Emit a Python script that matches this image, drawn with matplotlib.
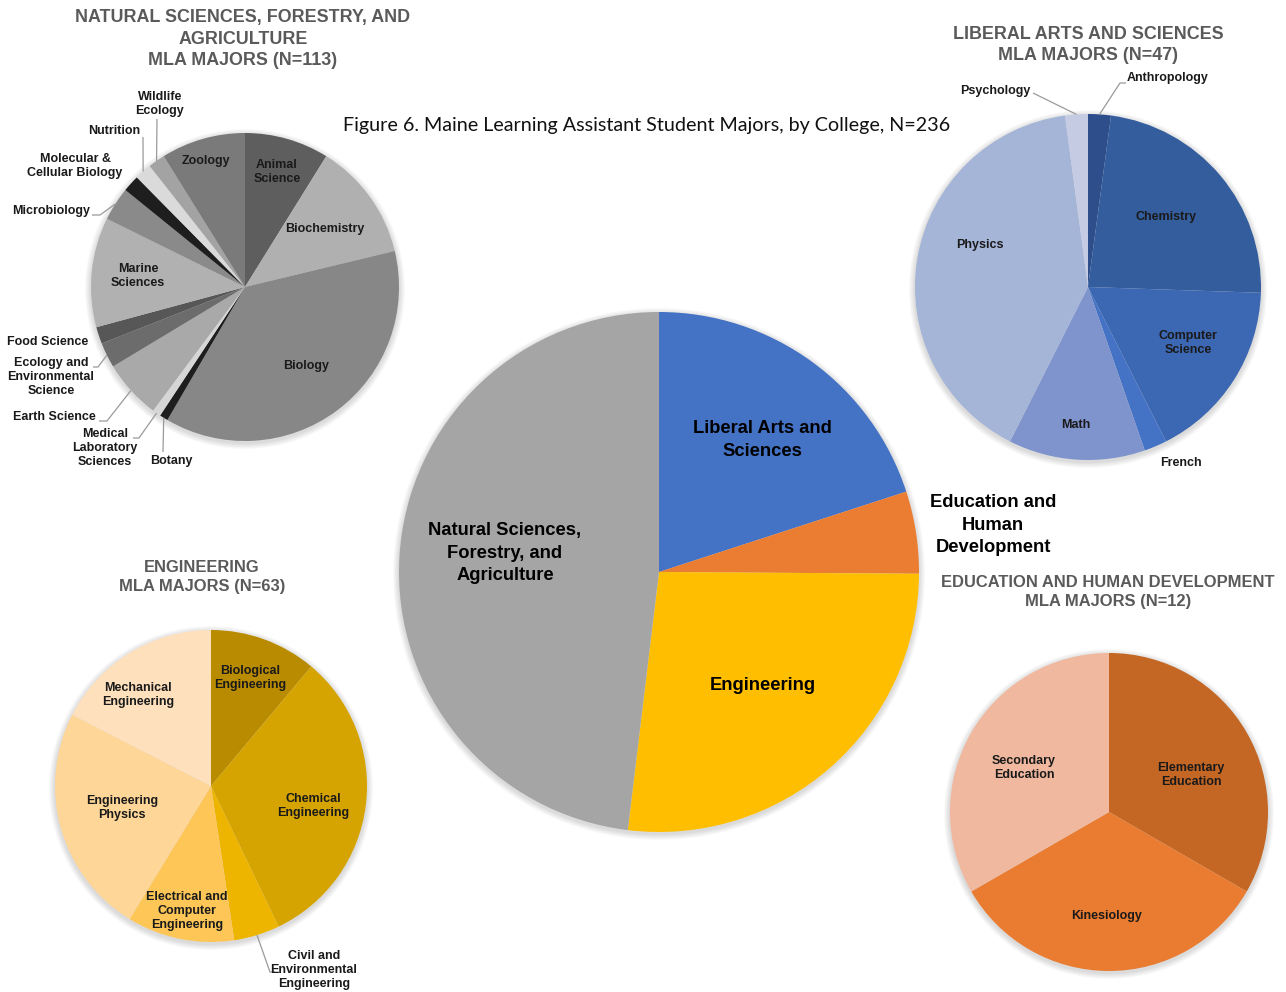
import matplotlib.pyplot as plt
from matplotlib.patches import Circle
import numpy as np

W, H = 1286, 992

# college totals (main pie)
college_names = ["Liberal Arts and\nSciences", "Education and\nHuman\nDevelopment",
                 "Engineering", "Natural Sciences,\nForestry, and\nAgriculture"]
college_counts = [47, 12, 63, 113]
college_colors = ["#4472c4", "#ea7d31", "#ffbf00", "#a5a5a5"]

# natural sciences, forestry and agriculture
ns_names = ["Animal\nScience", "Biochemistry", "Biology", "Botany",
            "Medical\nLaboratory\nSciences", "Earth Science",
            "Ecology and\nEnvironmental\nScience", "Food Science",
            "Marine\nSciences", "Microbiology", "Molecular &\nCellular Biology",
            "Nutrition", "Wildlife\nEcology", "Zoology"]
ns_counts = [10, 14, 42, 1, 1, 7, 3, 2, 13, 4, 2, 2, 2, 10]
ns_colors = ["#5e5e5e", "#b0b0b0", "#878787", "#1e1e1e", "#d6d6d6", "#a9a9a9",
             "#6c6c6c", "#575757", "#b1b1b1", "#8a8a8a", "#1e1e1e", "#dadada",
             "#a3a3a3", "#7a7a7a"]

# liberal arts and sciences
las_names = ["Anthropology", "Chemistry", "Computer\nScience", "French",
             "Math", "Physics", "Psychology"]
las_counts = [1, 11, 8, 1, 6, 19, 1]
las_colors = ["#2d4d8b", "#335d9d", "#3c67b2", "#4472c4", "#7f94cd",
              "#a5b5d7", "#c6cbe4"]

# engineering
eng_names = ["Biological\nEngineering", "Chemical\nEngineering",
             "Civil and\nEnvironmental\nEngineering",
             "Electrical and\nComputer\nEngineering", "Engineering\nPhysics",
             "Mechanical\nEngineering"]
eng_counts = [7, 20, 3, 7, 15, 11]
eng_colors = ["#b98b00", "#d6a400", "#eeb500", "#fdc657", "#fed698", "#fee0bd"]

# education and human development
edu_names = ["Elementary\nEducation", "Kinesiology", "Secondary\nEducation"]
edu_counts = [4, 4, 4]
edu_colors = ["#c46624", "#e97c30", "#f0b89e"]

fig = plt.figure(figsize=(W / 100, H / 100), dpi=100)
ax = fig.add_axes([0, 0, 1, 1])

LABEL_FONT = ["Liberation Sans", "DejaVu Sans"]
TITLE_GREY = "#5a5a5a"
LEADER_GREY = "#9a9a9a"


def draw_pie(counts, colors, cx, cy, r, lw=0.0):
    # faint soft shadow under the disc
    for k in range(1, 7):
        ax.add_patch(Circle((cx, H - cy - 2), r + k, color="black", alpha=0.022,
                            lw=0, zorder=0))
    wedges, _ = ax.pie(counts, colors=colors, startangle=90, counterclock=False,
                       center=(cx, H - cy), radius=r,
                       wedgeprops=dict(linewidth=lw, edgecolor="white", zorder=1))
    return wedges


def rim_point(w, frac=1.0):
    # point at the middle angle of a wedge, frac of the radius out
    a = np.deg2rad((w.theta1 + w.theta2) / 2)
    cx, cy = w.center
    return cx + frac * w.r * np.cos(a), cy + frac * w.r * np.sin(a)


def put(x, y, s, size=9, color="#1a1a1a", weight="bold", ls=1.25):
    ax.text(x, H - y, s, ha="center", va="center", fontsize=size, color=color,
            fontweight=weight, family=LABEL_FONT, linespacing=ls, zorder=3)


def title(x, y, s, size=12.9):
    put(x, y, s, size=size, color=TITLE_GREY, ls=1.36)


def leader(w, pts):
    # polyline from the label (image coords) down to the wedge rim
    xs = [p[0] for p in pts]
    ys = [H - p[1] for p in pts]
    ex, ey = rim_point(w)
    ax.plot(xs + [ex], ys + [ey], color=LEADER_GREY, lw=0.9,
            solid_capstyle="butt", zorder=2)


# ---- main pie
main = draw_pie(college_counts, college_colors, 659, 572, 260)
for name, pos in zip(college_names, [(762, 440), (993, 525), (763, 686), (505, 553)]):
    put(pos[0], pos[1], name, size=13.2, color="black", ls=1.42)

# ---- natural sciences
ns = draw_pie(ns_counts, ns_colors, 245, 287, 154)
ns_pos = {
    "Animal\nScience": (277, 172), "Biochemistry": (325, 229), "Biology": (306, 366),
    "Botany": (171, 461), "Medical\nLaboratory\nSciences": (105, 448),
    "Earth Science": (54, 417), "Ecology and\nEnvironmental\nScience": (51, 377),
    "Food Science": (48, 342), "Marine\nSciences": (138, 276),
    "Microbiology": (51, 211), "Molecular &\nCellular Biology": (75, 166),
    "Nutrition": (114, 131), "Wildlife\nEcology": (160, 104), "Zoology": (206, 161),
}
for name in ns_names:
    x, y = ns_pos[name]
    put(x, y, name)
leader(ns[3], [(163, 452)])
leader(ns[4], [(133, 438), (139, 438)])
leader(ns[5], [(99, 421), (107, 421)])
leader(ns[6], [(93, 367), (98, 367)])
leader(ns[9], [(92, 215), (100, 215)])
leader(ns[11], [(143, 137)])
leader(ns[12], [(157, 119)])
title(243, 39, "NATURAL SCIENCES, FORESTRY, AND\nAGRICULTURE\nMLA MAJORS (N=113)")

# ---- liberal arts and sciences
las = draw_pie(las_counts, las_colors, 1088, 287, 173)
las_pos = {
    "Anthropology": (1168, 78), "Chemistry": (1166, 217),
    "Computer\nScience": (1188, 343), "French": (1181, 463), "Math": (1076, 425),
    "Physics": (980, 245), "Psychology": (995, 91),
}
for name in las_names:
    x, y = las_pos[name]
    put(x, y, name)
leader(las[0], [(1126, 83), (1120, 83)])
leader(las[6], [(1033, 93)])
title(1088, 45, "LIBERAL ARTS AND SCIENCES\nMLA MAJORS (N=47)")

# ---- engineering
eng = draw_pie(eng_counts, eng_colors, 211, 786, 156)
eng_pos = {
    "Biological\nEngineering": (250, 678), "Chemical\nEngineering": (313, 806),
    "Civil and\nEnvironmental\nEngineering": (314, 970),
    "Electrical and\nComputer\nEngineering": (187, 911),
    "Engineering\nPhysics": (122, 808), "Mechanical\nEngineering": (138, 695),
}
for name in eng_names:
    x, y = eng_pos[name]
    put(x, y, name)
leader(eng[2], [(275, 972), (270, 972)])
title(202, 577, "ENGINEERING\nMLA MAJORS (N=63)", size=11.9)

# ---- education and human development
edu = draw_pie(edu_counts, edu_colors, 1109, 812, 159)
edu_pos = {
    "Elementary\nEducation": (1191, 775), "Kinesiology": (1107, 916),
    "Secondary\nEducation": (1024, 768),
}
for name in edu_names:
    x, y = edu_pos[name]
    put(x, y, name)
title(1108, 592, "EDUCATION AND HUMAN DEVELOPMENT\nMLA MAJORS (N=12)", size=11.9)

ax.text(647, H - 125, "Figure 6. Maine Learning Assistant Student Majors, by College, N=236",
        ha="center", va="center", fontsize=14.2, color="#111111",
        family=["Lato", "DejaVu Sans"], zorder=3)

ax.set_xlim(0, W)
ax.set_ylim(0, H)
ax.set_aspect("auto")
ax.axis("off")
fig.savefig("out.png", dpi=100, facecolor="white")
